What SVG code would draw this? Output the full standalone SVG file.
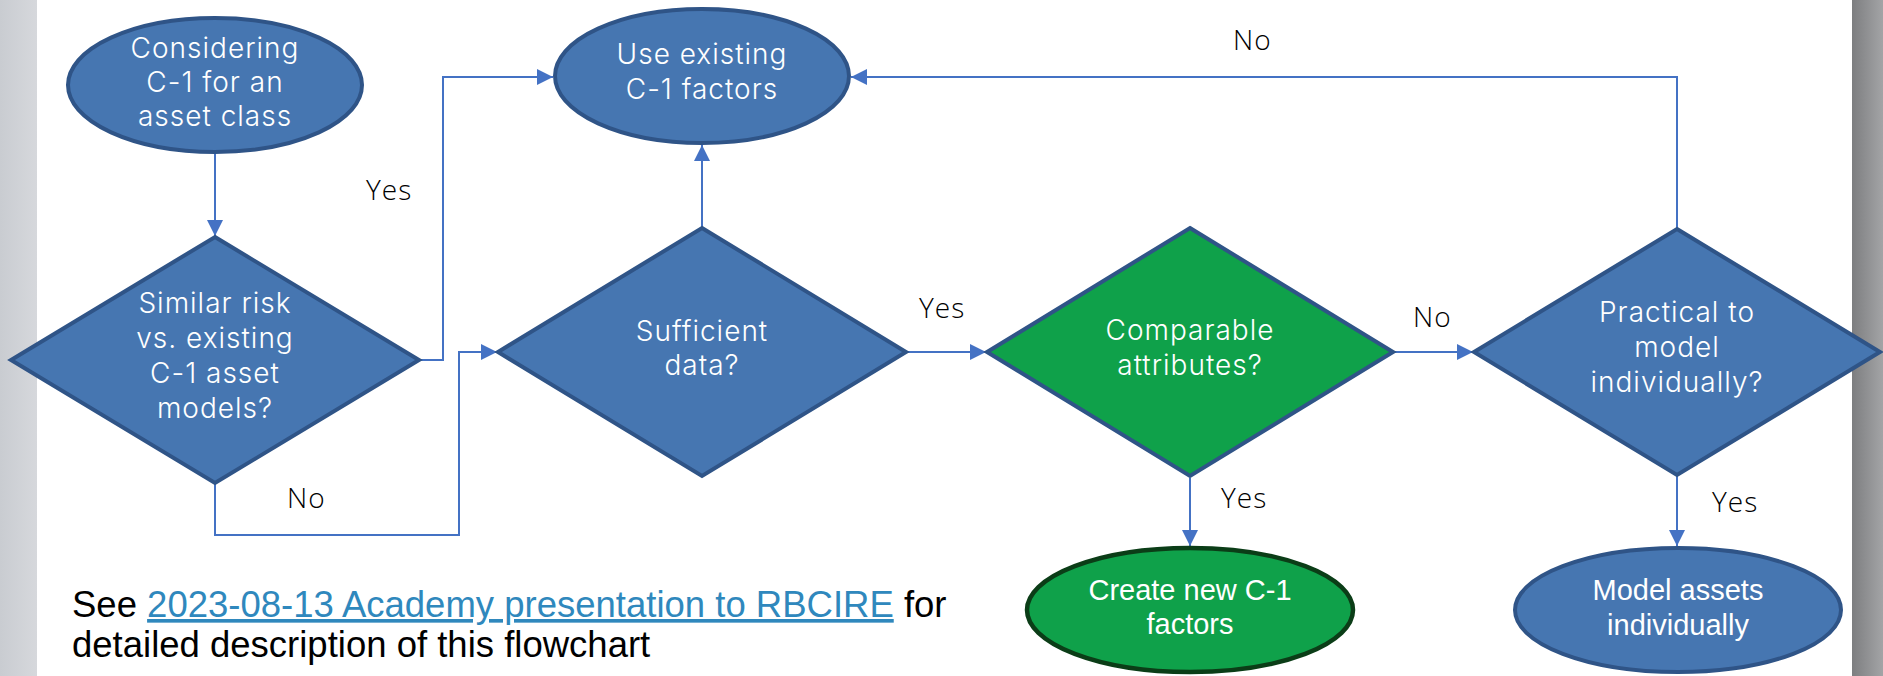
<svg xmlns="http://www.w3.org/2000/svg" width="1883" height="676" viewBox="0 0 1883 676">
<defs>
<linearGradient id="gl" x1="0" y1="0" x2="1" y2="0">
<stop offset="0" stop-color="#c9ccd1"/><stop offset="1" stop-color="#d6d8dc"/>
</linearGradient>
<linearGradient id="gr" x1="0" y1="0" x2="1" y2="0">
<stop offset="0" stop-color="#7d7e80"/><stop offset="1" stop-color="#a3a4a6"/>
</linearGradient>
<marker id="ah" markerUnits="userSpaceOnUse" markerWidth="18" markerHeight="16" refX="16" refY="8" orient="auto">
<path d="M0,0 L16,8 L0,16 Z" fill="#4472C4"/>
</marker>
<style>
.blue{fill:#4676B1;stroke:#2F5487;stroke-width:4}
.green{fill:#0FA14A;stroke:#2F5487;stroke-width:4}
.greenE{fill:#0FA14A;stroke:#0B3D17;stroke-width:4.5}
.conn{fill:none;stroke:#4472C4;stroke-width:2;marker-end:url(#ah)}
.nt{font-family:Inter,"Open Sans",sans-serif;font-weight:300;font-size:28px;fill:#ffffff;text-anchor:middle;letter-spacing:1px}
.at{font-family:"Liberation Sans",Arial,sans-serif;font-size:29px;fill:#ffffff;text-anchor:middle}
.lbl{font-family:"Open Sans","Noto Sans",sans-serif;font-weight:300;font-size:28px;fill:#000000;letter-spacing:1px}
.note{font-family:"Liberation Sans",Arial,sans-serif;font-size:36.5px;fill:#000000}
.link{fill:#2F88BD;text-decoration:underline}
</style>
</defs>
<rect x="0" y="0" width="1883" height="676" fill="#ffffff"/>
<rect x="0" y="0" width="37" height="676" fill="url(#gl)"/>
<rect x="1852" y="0" width="31" height="676" fill="url(#gr)"/>

<g id="connectors">
<path class="conn" d="M215,154 V236"/>
<path class="conn" d="M421,360 H443 V77 H553"/>
<path class="conn" d="M215,484 V535 H459 V352 H497"/>
<path class="conn" d="M702,227 V145"/>
<path class="conn" d="M908,352 H986"/>
<path class="conn" d="M1395,352 H1473"/>
<path class="conn" d="M1677,228 V77 H851"/>
<path class="conn" d="M1190,478 V546"/>
<path class="conn" d="M1677,476 V546"/>
</g>

<g id="node-considering">
<ellipse class="blue" cx="215" cy="85" rx="147" ry="67"/>
<text class="nt" x="215" y="58">Considering</text>
<text class="nt" x="215" y="92">C-1 for an</text>
<text class="nt" x="215" y="126">asset class</text>
</g>

<g id="node-use-existing">
<ellipse class="blue" cx="702" cy="76" rx="147" ry="67"/>
<text class="nt" x="702" y="64">Use existing</text>
<text class="nt" x="702" y="99">C-1 factors</text>
</g>

<g id="node-similar-risk">
<polygon class="blue" points="215,237 419,360 215,483 11,360"/>
<text class="nt" x="215" y="313">Similar risk</text>
<text class="nt" x="215" y="348">vs. existing</text>
<text class="nt" x="215" y="383">C-1 asset</text>
<text class="nt" x="215" y="418">models?</text>
</g>

<g id="node-sufficient">
<polygon class="blue" points="702,228 906,352 702,476 498,352"/>
<text class="nt" x="702" y="341">Sufficient</text>
<text class="nt" x="702" y="375">data?</text>
</g>

<g id="node-comparable">
<polygon class="green" points="1190,228 1393,352 1190,476 987,352"/>
<text class="nt" x="1190" y="340">Comparable</text>
<text class="nt" x="1190" y="375">attributes?</text>
</g>

<g id="node-practical">
<polygon class="blue" points="1677,229 1880,352 1677,475 1474,352"/>
<text class="nt" x="1677" y="322">Practical to</text>
<text class="nt" x="1677" y="357">model</text>
<text class="nt" x="1677" y="392">individually?</text>
</g>

<g id="node-create">
<ellipse class="greenE" cx="1190" cy="610" rx="163" ry="62"/>
<text class="at" x="1190" y="600">Create new C-1</text>
<text class="at" x="1190" y="634">factors</text>
</g>

<g id="node-model">
<ellipse class="blue" cx="1678" cy="610" rx="163" ry="62"/>
<text class="at" x="1678" y="600">Model assets</text>
<text class="at" x="1678" y="635">individually</text>
</g>

<g id="labels">
<text class="lbl" x="366" y="200">Yes</text>
<text class="lbl" x="287" y="508">No</text>
<text class="lbl" x="919" y="318">Yes</text>
<text class="lbl" x="1233" y="50">No</text>
<text class="lbl" x="1413" y="327">No</text>
<text class="lbl" x="1221" y="508">Yes</text>
<text class="lbl" x="1712" y="512">Yes</text>
</g>

<g id="note">
<text class="note" x="72" y="617">See <tspan class="link">2023-08-13 Academy presentation to RBCIRE</tspan> for</text>
<text class="note" x="72" y="657">detailed description of this flowchart</text>
</g>
</svg>
